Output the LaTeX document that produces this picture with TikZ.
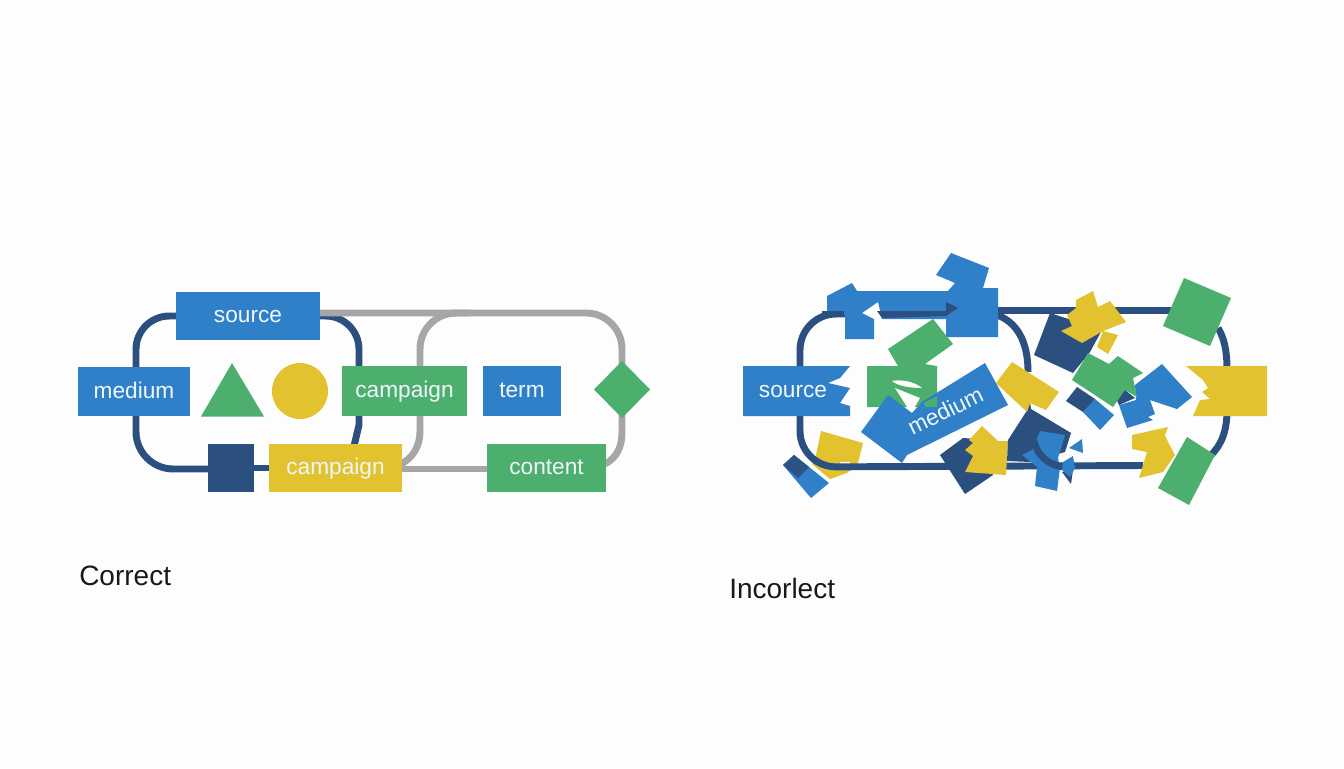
\documentclass[tikz,border=0pt]{standalone}
\usepackage{fontspec}
\setmainfont{Liberation Sans}
\pgfdeclarelayer{under}
\pgfsetlayers{under,main}
\definecolor{cblue}{HTML}{2F80C8}
\definecolor{cgreen}{HTML}{4CAF6E}
\definecolor{cyellow}{HTML}{E2C22F}
\definecolor{cnavy}{HTML}{2B4F7F}
\definecolor{cgray}{HTML}{A6A6A6}
\definecolor{clabel}{HTML}{F0F7FA}
\definecolor{cpaper}{HTML}{FDFDFD}
\tikzset{
  boxbase/.style={inner sep=0pt,outer sep=0pt,text=clabel,font=\fontsize{17}{20}\selectfont,text height=13pt,text depth=3.2pt},
  bluebox/.style={boxbase,fill=cblue},
  greenbox/.style={boxbase,fill=cgreen},
  yellowbox/.style={boxbase,fill=cyellow},
  navyline/.style={draw=cnavy,line width=5.2pt},
  grayline/.style={draw=cgray,line width=5.2pt},
  caption/.style={inner sep=0pt,text=black!90,font=\fontsize{21}{25}\selectfont},
}
\begin{document}
\begin{tikzpicture}[x=0.75pt,y=-0.75pt]
\useasboundingbox (0,0) rectangle (1344,768);
\begin{pgfonlayer}{under}
  \fill[cpaper] (0,0) rectangle (1344,768);
\end{pgfonlayer}
% ---------- Correct ----------
\node[bluebox,minimum width=108pt,minimum height=36pt] (lsource) at (248,316) {source};
\node[bluebox,minimum width=84pt,minimum height=37pt] (lmedium) at (134,391.5) {medium};
\node[greenbox,minimum width=94pt,minimum height=37.5pt] (lcamp) at (404.5,391) {campaign};
\node[bluebox,minimum width=58.5pt,minimum height=37.5pt] (lterm) at (522,391) {term};
\node[greenbox,minimum width=89pt,minimum height=36pt] (lcontent) at (546.5,468) {content};
\node[yellowbox,minimum width=100pt,minimum height=36pt] (lyellow) at (335.5,468) {campaign};
\node[fill=cnavy,inner sep=0pt,outer sep=0pt,minimum width=34.5pt,minimum height=36pt] (lsquare) at (231,468) {};
\node[fill=cyellow,circle,inner sep=0pt,outer sep=0pt,minimum size=42pt] (lcircle) at (300,391) {};
\fill[cgreen] (232,363) -- (264,416.5) -- (201,416.5) -- cycle;
\fill[cgreen] (622,361) -- (650,389.5) -- (622,418) -- (594,389.5) -- cycle;
\coordinate (ldiamond) at (622,389.5);
\coordinate (navyW) at (136,391);
\coordinate (navyE) at (359,391);
\coordinate (grayTop) at (320,313);
\coordinate (grayL) at (420,391);
\begin{pgfonlayer}{under}
  \draw[navyline,rounded corners=25pt] (lsource.west) -- (136,316) -- (navyW);
  \draw[navyline,rounded corners=28pt] (navyW) -- (136,469) -- (lsquare.west |- 0,469);
  \draw[navyline] (lsquare.east) -- (lyellow.west);
  \draw[navyline,rounded corners=25pt] (lsource.east) -- (359,316) -- (navyE);
  \draw[navyline] (navyE) -- (359,425) -- (354,446);
  \draw[grayline,rounded corners=27pt] (grayTop) -- (622,313) -- (ldiamond);
  \draw[grayline,rounded corners=27pt] (470,313) -- (420,313) -- (grayL);
  \draw[grayline] (grayL) -- (420,430) .. controls (420,448) and (412,458) .. (401,464);
  \draw[grayline] (ldiamond) -- (622,432) .. controls (622,448) and (616,458) .. (605,464);
  \draw[grayline] (lyellow.east |- 0,469) -- (lcontent.west |- 0,469);
\end{pgfonlayer}
\node[caption,anchor=base west] (lcap) at (79,585) {Correct};
% ---------- Incorrect ----------
\fill[cyellow] (821,431) -- (863,443) -- (858,463) -- (847,473) -- (830,479) -- (812,464) -- (816,455) -- cycle;
\fill[cpaper] (840,462) -- (850,462) -- (850,467) -- (840,467) -- cycle;
\draw[navyline,rounded corners=27pt] (850,314) -- (800,314) -- (800,467) -- (1143,465.5);
\draw[navyline] (990,310.5) -- (1190,310.5);
\draw[navyline] (997,315) .. controls (1016,322) and (1028,340) .. (1028,372);
\draw[navyline] (1218,328) .. controls (1224,338) and (1227,350) .. (1227,370);
\draw[navyline] (1227,410) .. controls (1227,430) and (1222,445) .. (1210,456);
% tile
\fill[cblue] (794,455) -- (829,483) -- (811,498) -- (783,465) -- cycle;
\fill[cnavy!92!cblue] (794,455) -- (809,467) -- (798,478) -- (783,465) -- cycle;
% top blue
\fill[cblue] (827,296) -- (852,283) -- (857,291) -- (948,291) -- (955,283) -- (936,275) -- (951,253) -- (989,268) -- (983,288) -- (998,288) -- (998,337) -- (946,337) -- (946,319) -- (882,319) -- (878,302) -- (862,313) -- (874,319) -- (874,339) -- (845,339) -- (845,315) -- (827,313) -- cycle;
\draw[navyline] (822,314) -- (844,314);
\fill[cnavy] (877,311) -- (946,311) -- (946,302) -- (958,308) -- (946,316) -- (882,318) -- cycle;
% green block + rotated piece
\fill[cgreen] (933,319) -- (953,344) -- (925,364) -- (937,366) -- (937,407) -- (867,407) -- (867,366) -- (898,366) -- (888,349) -- cycle;
\fill[cpaper] (892,381) .. controls (902,379) and (915,382) .. (922,388) .. controls (910,388) and (898,386) .. (892,381) -- cycle;
\fill[cpaper] (895,388) -- (920,398) -- (911,413) -- cycle;
% medium
\fill[cblue] (861,432) -- (888,395) -- (912,413) -- (922,402) -- (985,363) -- (1008,405) -- (907,455) -- (902,463) -- cycle;
\fill[cgreen] (925,407) -- (937,407) -- (937,396) -- (924,403) -- cycle;
\node[boxbase,rotate=26,anchor=center] (rmedium) at (946,412) {medium};
% source
\fill[cblue] (743,366) -- (850,366) -- (840,378) -- (828,383) -- (850,388) -- (840,403) -- (850,406) -- (850,416) -- (743,416) -- cycle;
\node[boxbase,anchor=center] (rsource) at (793,391) {source};
% navy + yellow lower
\fill[cnavy] (940,455) -- (963,438) -- (977,439) -- (993,475) -- (965,494) -- cycle;
\fill[cyellow] (965,472) -- (973,456) -- (965,450) -- (973,443) -- (969,440) -- (982,426) -- (998,441) -- (1008,441) -- (1006,475) -- cycle;
% big navy
\fill[cnavy] (1030,402) -- (1031,409) -- (1071,433) -- (1065,452) -- (1030,462) -- (1007,461) -- (1008,440) -- (1026,412) -- cycle;
\fill[cblue] (1040,431) -- (1065,435) -- (1058,458) -- (1060,468) -- (1057,491) -- (1035,486) -- (1037,467) -- (1022,455) -- (1032,450) -- cycle;
\fill[cblue] (1082,439) -- (1083,453) -- (1069,448) -- cycle;
\draw[navyline] (1033,437) .. controls (1036,455) and (1048,466) .. (1066,467);
\fill[cnavy] (1062,472) -- (1073,470) -- (1071,484) -- cycle;
\fill[cblue] (1073,456) -- (1075,468) -- (1070,477) -- (1062,470) -- (1063,462) -- cycle;
% yellow centre
\fill[cyellow] (1012,362) -- (1059,392) -- (1046,410) -- (1030,403) -- (1027,412) -- (996,383) -- cycle;
% top centre
\fill[cnavy] (1050,313) -- (1102,330) -- (1090,352) -- (1073,373) -- (1034,355) -- cycle;
\fill[cyellow] (1093,291) -- (1098,307) -- (1110,301) -- (1126,322) -- (1103,331) -- (1118,335) -- (1108,354) -- (1097,347) -- (1103,331) -- (1082,343) -- (1061,331) -- (1072,326) -- (1067,315) -- (1076,308) -- (1076,300) -- cycle;
% small tile
\fill[cblue] (1095,399) -- (1114,415) -- (1100,430) -- (1083,412) -- cycle;
\fill[cnavy] (1077,387) -- (1095,399) -- (1083,412) -- (1066,401) -- cycle;
% right blue
\fill[cblue] (1162,364) -- (1192,397) -- (1177,409) -- (1150,400) -- (1155,414) -- (1148,417) -- (1153,420) -- (1127,428) -- (1119,405) -- (1136,400) -- (1135,385) -- cycle;
\fill[cnavy] (1115,396) -- (1125,390) -- (1135,398) -- (1119,405) -- cycle;
% middle green
\fill[cgreen] (1088,353) -- (1109,364) -- (1118,356) -- (1143,373) -- (1133,378) -- (1137,397) -- (1125,390) -- (1113,407) -- (1072,380) -- cycle;
% right
\fill[cgreen] (1184,278) -- (1231,298) -- (1210,346) -- (1163,326) -- cycle;
\fill[cyellow] (1186,366) -- (1267,366) -- (1267,416) -- (1193,416) -- (1200,400) -- (1210,399) -- (1202,392) -- (1208,388) -- (1203,380) -- cycle;
\fill[cyellow] (1132,435) -- (1168,427) -- (1165,435) -- (1168,442) -- (1175,455) -- (1163,472) -- (1139,478) -- (1144,462) -- (1147,452) -- (1132,449) -- cycle;
\fill[cgreen] (1187,437) -- (1215,455) -- (1189,505) -- (1158,488) -- cycle;
\node[caption,anchor=base west] (rcap) at (729,598) {Incorlect};
\end{tikzpicture}
\end{document}
